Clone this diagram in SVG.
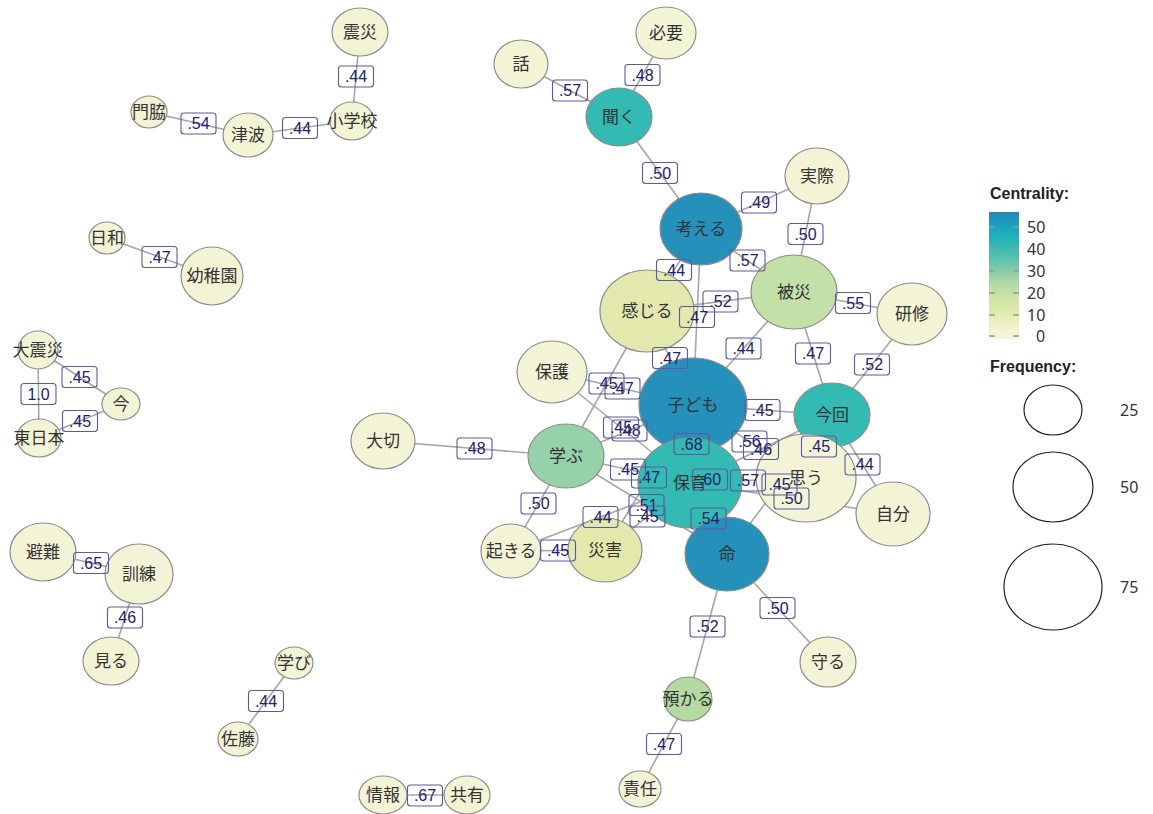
<svg xmlns="http://www.w3.org/2000/svg" width="1153" height="814" viewBox="0 0 1153 814">
<style>
.e{stroke:#a6a6a6;stroke-width:1.6;fill:none}
.n{stroke:#8c8c8c;stroke-width:1.2}
.p{fill:#f3f3d6}.b{fill:#2590ba}.t{fill:#33bab3}.g{fill:#95d1a9}.h{fill:#c3e0a8}.a{fill:#b4daa2}.y{fill:#e3e8ad}
.nt{font-family:"Noto Sans CJK JP","Noto Sans",sans-serif;font-size:17px;fill:#333;text-anchor:middle}
.lb{fill:none;stroke:#5a5aa2;stroke-width:1.1}
.lt{font-family:"Liberation Sans",Arial,sans-serif;font-size:16px;fill:#22226b;text-anchor:middle}
.lg{font-family:"Liberation Sans",Arial,sans-serif;font-size:16px;font-weight:bold;fill:#222}
.tk{font-family:"Noto Sans","DejaVu Sans",sans-serif;font-size:16px;fill:#333}
.fc{fill:none;stroke:#222;stroke-width:1.2}
</style>
<defs>
<linearGradient id="cg" x1="0" y1="1" x2="0" y2="0">
<stop offset="0" stop-color="#f6f5df"/>
<stop offset="0.1" stop-color="#eff1c8"/>
<stop offset="0.22" stop-color="#dde9ab"/>
<stop offset="0.35" stop-color="#c8e2a6"/>
<stop offset="0.47" stop-color="#a5d5a6"/>
<stop offset="0.58" stop-color="#72c6a9"/>
<stop offset="0.7" stop-color="#40bbb0"/>
<stop offset="0.8" stop-color="#1fb2b8"/>
<stop offset="0.9" stop-color="#1d9fc0"/>
<stop offset="1" stop-color="#2686b6"/>
</linearGradient>
</defs>
<rect width="1153" height="814" fill="#fff"/>
<g id="connectors">
<line class="e" x1="149" y1="112" x2="248" y2="135"/>
<line class="e" x1="248" y1="135" x2="352" y2="121"/>
<line class="e" x1="360" y1="32" x2="352" y2="121"/>
<line class="e" x1="107" y1="238" x2="212" y2="276"/>
<line class="e" x1="38" y1="350" x2="39" y2="438"/>
<line class="e" x1="38" y1="350" x2="121" y2="404"/>
<line class="e" x1="39" y1="438" x2="121" y2="404"/>
<line class="e" x1="43" y1="552" x2="139" y2="574"/>
<line class="e" x1="139" y1="574" x2="111" y2="661"/>
<line class="e" x1="294" y1="663" x2="238" y2="739"/>
<line class="e" x1="383" y1="795" x2="467" y2="795"/>
<line class="e" x1="688" y1="699" x2="640" y2="789"/>
<line class="e" x1="727" y1="554" x2="688" y2="699"/>
<line class="e" x1="727" y1="554" x2="828" y2="662"/>
<line class="e" x1="521" y1="64" x2="619" y2="117"/>
<line class="e" x1="619" y1="117" x2="666" y2="33"/>
<line class="e" x1="619" y1="117" x2="701" y2="229"/>
<line class="e" x1="701" y1="229" x2="817" y2="176"/>
<line class="e" x1="817" y1="176" x2="794" y2="292"/>
<line class="e" x1="701" y1="229" x2="794" y2="292"/>
<line class="e" x1="794" y1="292" x2="912" y2="314"/>
<line class="e" x1="794" y1="292" x2="693" y2="405"/>
<line class="e" x1="794" y1="292" x2="832" y2="415"/>
<line class="e" x1="912" y1="314" x2="832" y2="415"/>
<line class="e" x1="701" y1="229" x2="647" y2="311"/>
<line class="e" x1="647" y1="311" x2="794" y2="292"/>
<line class="e" x1="701" y1="229" x2="693" y2="405"/>
<line class="e" x1="647" y1="311" x2="693" y2="405"/>
<line class="e" x1="693" y1="405" x2="690" y2="483"/>
<line class="e" x1="693" y1="405" x2="832" y2="415"/>
<line class="e" x1="693" y1="405" x2="806" y2="478"/>
<line class="e" x1="690" y1="483" x2="832" y2="415"/>
<line class="e" x1="690" y1="483" x2="806" y2="478"/>
<line class="e" x1="832" y1="415" x2="806" y2="478"/>
<line class="e" x1="832" y1="415" x2="893" y2="514"/>
<line class="e" x1="690" y1="483" x2="893" y2="514"/>
<line class="e" x1="727" y1="554" x2="832" y2="415"/>
<line class="e" x1="693" y1="405" x2="727" y2="554"/>
<line class="e" x1="690" y1="483" x2="727" y2="554"/>
<line class="e" x1="383" y1="441" x2="566" y2="456"/>
<line class="e" x1="566" y1="456" x2="511" y2="551"/>
<line class="e" x1="511" y1="551" x2="605" y2="550"/>
<line class="e" x1="511" y1="551" x2="690" y2="483"/>
<line class="e" x1="566" y1="456" x2="727" y2="554"/>
<line class="e" x1="605" y1="550" x2="690" y2="483"/>
<line class="e" x1="605" y1="550" x2="693" y2="405"/>
<line class="e" x1="566" y1="456" x2="690" y2="483"/>
<line class="e" x1="566" y1="456" x2="693" y2="405"/>
<line class="e" x1="552" y1="372" x2="690" y2="483"/>
<line class="e" x1="566" y1="456" x2="647" y2="311"/>
<line class="e" x1="552" y1="372" x2="693" y2="405"/>
</g>
<g id="n-shinsai"><ellipse class="n p" cx="360" cy="32" rx="28" ry="24"/><text class="nt" x="360" y="38">震災</text></g>
<g id="n-shogakko"><ellipse class="n p" cx="352" cy="121" rx="22" ry="19"/><text class="nt" x="352" y="127">小学校</text></g>
<g id="n-tsunami"><ellipse class="n p" cx="248" cy="135" rx="25" ry="22"/><text class="nt" x="248" y="141">津波</text></g>
<g id="n-kadowaki"><ellipse class="n p" cx="149" cy="112" rx="18" ry="16"/><text class="nt" x="149" y="118">門脇</text></g>
<g id="n-hiyori"><ellipse class="n p" cx="107" cy="238" rx="18" ry="16"/><text class="nt" x="107" y="244">日和</text></g>
<g id="n-yochien"><ellipse class="n p" cx="212" cy="276" rx="31" ry="29"/><text class="nt" x="212" y="282">幼稚園</text></g>
<g id="n-daishinsai"><ellipse class="n p" cx="38" cy="350" rx="20" ry="19"/><text class="nt" x="38" y="356">大震災</text></g>
<g id="n-higashinihon"><ellipse class="n p" cx="39" cy="438" rx="22" ry="19"/><text class="nt" x="39" y="444">東日本</text></g>
<g id="n-ima"><ellipse class="n p" cx="121" cy="404" rx="19" ry="16"/><text class="nt" x="121" y="410">今</text></g>
<g id="n-hinan"><ellipse class="n p" cx="43" cy="552" rx="33" ry="29"/><text class="nt" x="43" y="558">避難</text></g>
<g id="n-kunren"><ellipse class="n p" cx="139" cy="574" rx="34" ry="30"/><text class="nt" x="139" y="580">訓練</text></g>
<g id="n-miru"><ellipse class="n p" cx="111" cy="661" rx="28" ry="24"/><text class="nt" x="111" y="667">見る</text></g>
<g id="n-manabi"><ellipse class="n p" cx="294" cy="663" rx="19" ry="16"/><text class="nt" x="294" y="669">学び</text></g>
<g id="n-sato"><ellipse class="n p" cx="238" cy="739" rx="20" ry="17"/><text class="nt" x="238" y="745">佐藤</text></g>
<g id="n-joho"><ellipse class="n p" cx="383" cy="795" rx="24" ry="19"/><text class="nt" x="383" y="801">情報</text></g>
<g id="n-kyoyu"><ellipse class="n p" cx="467" cy="795" rx="23" ry="19"/><text class="nt" x="467" y="801">共有</text></g>
<g id="n-sekinin"><ellipse class="n p" cx="640" cy="789" rx="21" ry="18"/><text class="nt" x="640" y="795">責任</text></g>
<g id="n-azukaru"><ellipse class="n a" cx="688" cy="699" rx="24" ry="22"/><text class="nt" x="688" y="705">預かる</text></g>
<g id="n-mamoru"><ellipse class="n p" cx="828" cy="662" rx="28" ry="25"/><text class="nt" x="828" y="668">守る</text></g>
<g id="n-hanashi"><ellipse class="n p" cx="521" cy="64" rx="27" ry="24"/><text class="nt" x="521" y="70">話</text></g>
<g id="n-hitsuyo"><ellipse class="n p" cx="666" cy="33" rx="30" ry="26"/><text class="nt" x="666" y="39">必要</text></g>
<g id="n-kiku"><ellipse class="n t" cx="619" cy="117" rx="33" ry="29"/><text class="nt" x="619" y="123">聞く</text></g>
<g id="n-kangaeru"><ellipse class="n b" cx="701" cy="229" rx="41" ry="36"/><text class="nt" x="701" y="235">考える</text></g>
<g id="n-jissai"><ellipse class="n p" cx="817" cy="176" rx="32" ry="28"/><text class="nt" x="817" y="182">実際</text></g>
<g id="n-hisai"><ellipse class="n h" cx="794" cy="292" rx="43" ry="37"/><text class="nt" x="794" y="298">被災</text></g>
<g id="n-kenshu"><ellipse class="n p" cx="912" cy="314" rx="35" ry="31"/><text class="nt" x="912" y="320">研修</text></g>
<g id="n-kanjiru"><ellipse class="n y" cx="647" cy="311" rx="47" ry="41"/><text class="nt" x="647" y="317">感じる</text></g>
<g id="n-hogo"><ellipse class="n p" cx="552" cy="372" rx="35" ry="31"/><text class="nt" x="552" y="378">保護</text></g>
<g id="n-taisetsu"><ellipse class="n p" cx="383" cy="441" rx="32" ry="28"/><text class="nt" x="383" y="447">大切</text></g>
<g id="n-manabu"><ellipse class="n g" cx="566" cy="456" rx="38" ry="32"/><text class="nt" x="566" y="462">学ぶ</text></g>
<g id="n-okiru"><ellipse class="n p" cx="511" cy="551" rx="30" ry="27"/><text class="nt" x="511" y="557">起きる</text></g>
<g id="n-saigai"><ellipse class="n y" cx="605" cy="550" rx="37" ry="32"/><text class="nt" x="605" y="556">災害</text></g>
<g id="n-kodomo"><ellipse class="n b" cx="693" cy="405" rx="54" ry="47"/><text class="nt" x="693" y="411">子ども</text></g>
<g id="n-konkai"><ellipse class="n t" cx="832" cy="415" rx="38" ry="32"/><text class="nt" x="832" y="421">今回</text></g>
<g id="n-omou"><ellipse class="n p" cx="806" cy="478" rx="50" ry="44"/><text class="nt" x="806" y="484">思う</text></g>
<g id="n-jibun"><ellipse class="n p" cx="893" cy="514" rx="37" ry="32"/><text class="nt" x="893" y="520">自分</text></g>
<g id="n-hoiku"><ellipse class="n t" cx="690" cy="483" rx="52" ry="45"/><text class="nt" x="690" y="489">保育</text></g>
<g id="n-inochi"><ellipse class="n b" cx="727" cy="554" rx="42" ry="37"/><text class="nt" x="727" y="560">命</text></g>
<g id="edge-labels">
<rect class="lb" x="181" y="113" width="35" height="21" rx="3"/><text class="lt" x="198.5" y="129">.54</text>
<rect class="lb" x="282.5" y="117.5" width="35" height="21" rx="3"/><text class="lt" x="300" y="133.5">.44</text>
<rect class="lb" x="338.5" y="66" width="35" height="21" rx="3"/><text class="lt" x="356" y="82">.44</text>
<rect class="lb" x="142" y="246.5" width="35" height="21" rx="3"/><text class="lt" x="159.5" y="262.5">.47</text>
<rect class="lb" x="21" y="383.5" width="35" height="21" rx="3"/><text class="lt" x="38.5" y="399.5">1.0</text>
<rect class="lb" x="62" y="366.5" width="35" height="21" rx="3"/><text class="lt" x="79.5" y="382.5">.45</text>
<rect class="lb" x="62.5" y="410.5" width="35" height="21" rx="3"/><text class="lt" x="80" y="426.5">.45</text>
<rect class="lb" x="73.5" y="552.5" width="35" height="21" rx="3"/><text class="lt" x="91" y="568.5">.65</text>
<rect class="lb" x="107.5" y="607" width="35" height="21" rx="3"/><text class="lt" x="125" y="623">.46</text>
<rect class="lb" x="248.5" y="690.5" width="35" height="21" rx="3"/><text class="lt" x="266" y="706.5">.44</text>
<rect class="lb" x="407.5" y="785" width="35" height="21" rx="3"/><text class="lt" x="425" y="801">.67</text>
<rect class="lb" x="646.5" y="733.5" width="35" height="21" rx="3"/><text class="lt" x="664" y="749.5">.47</text>
<rect class="lb" x="690" y="616" width="35" height="21" rx="3"/><text class="lt" x="707.5" y="632">.52</text>
<rect class="lb" x="760" y="597.5" width="35" height="21" rx="3"/><text class="lt" x="777.5" y="613.5">.50</text>
<rect class="lb" x="552.5" y="80" width="35" height="21" rx="3"/><text class="lt" x="570" y="96">.57</text>
<rect class="lb" x="625" y="64.5" width="35" height="21" rx="3"/><text class="lt" x="642.5" y="80.5">.48</text>
<rect class="lb" x="642.5" y="162.5" width="35" height="21" rx="3"/><text class="lt" x="660" y="178.5">.50</text>
<rect class="lb" x="741.5" y="192" width="35" height="21" rx="3"/><text class="lt" x="759" y="208">.49</text>
<rect class="lb" x="788" y="223.5" width="35" height="21" rx="3"/><text class="lt" x="805.5" y="239.5">.50</text>
<rect class="lb" x="730" y="250" width="35" height="21" rx="3"/><text class="lt" x="747.5" y="266">.57</text>
<rect class="lb" x="835.5" y="292.5" width="35" height="21" rx="3"/><text class="lt" x="853" y="308.5">.55</text>
<rect class="lb" x="726" y="338" width="35" height="21" rx="3"/><text class="lt" x="743.5" y="354">.44</text>
<rect class="lb" x="795.5" y="343" width="35" height="21" rx="3"/><text class="lt" x="813" y="359">.47</text>
<rect class="lb" x="854.5" y="354" width="35" height="21" rx="3"/><text class="lt" x="872" y="370">.52</text>
<rect class="lb" x="656.5" y="259.5" width="35" height="21" rx="3"/><text class="lt" x="674" y="275.5">.44</text>
<rect class="lb" x="703" y="291" width="35" height="21" rx="3"/><text class="lt" x="720.5" y="307">.52</text>
<rect class="lb" x="679.5" y="306.5" width="35" height="21" rx="3"/><text class="lt" x="697" y="322.5">.47</text>
<rect class="lb" x="652.5" y="347.5" width="35" height="21" rx="3"/><text class="lt" x="670" y="363.5">.47</text>
<rect class="lb" x="674" y="433.5" width="35" height="21" rx="3"/><text class="lt" x="691.5" y="449.5">.68</text>
<rect class="lb" x="745" y="399.5" width="35" height="21" rx="3"/><text class="lt" x="762.5" y="415.5">.45</text>
<rect class="lb" x="732" y="431" width="35" height="21" rx="3"/><text class="lt" x="749.5" y="447">.56</text>
<rect class="lb" x="743.5" y="438.5" width="35" height="21" rx="3"/><text class="lt" x="761" y="454.5">.46</text>
<rect class="lb" x="730.5" y="470" width="35" height="21" rx="3"/><text class="lt" x="748" y="486">.57</text>
<rect class="lb" x="801.5" y="436" width="35" height="21" rx="3"/><text class="lt" x="819" y="452">.45</text>
<rect class="lb" x="845" y="454" width="35" height="21" rx="3"/><text class="lt" x="862.5" y="470">.44</text>
<rect class="lb" x="774" y="488" width="35" height="21" rx="3"/><text class="lt" x="791.5" y="504">.50</text>
<rect class="lb" x="762" y="474" width="35" height="21" rx="3"/><text class="lt" x="779.5" y="490">.45</text>
<rect class="lb" x="692.5" y="469" width="35" height="21" rx="3"/><text class="lt" x="710" y="485">.60</text>
<rect class="lb" x="691" y="508" width="35" height="21" rx="3"/><text class="lt" x="708.5" y="524">.54</text>
<rect class="lb" x="457" y="438" width="35" height="21" rx="3"/><text class="lt" x="474.5" y="454">.48</text>
<rect class="lb" x="521" y="493" width="35" height="21" rx="3"/><text class="lt" x="538.5" y="509">.50</text>
<rect class="lb" x="540.5" y="540" width="35" height="21" rx="3"/><text class="lt" x="558" y="556">.45</text>
<rect class="lb" x="583" y="506.5" width="35" height="21" rx="3"/><text class="lt" x="600.5" y="522.5">.44</text>
<rect class="lb" x="629" y="494.5" width="35" height="21" rx="3"/><text class="lt" x="646.5" y="510.5">.51</text>
<rect class="lb" x="630" y="506" width="35" height="21" rx="3"/><text class="lt" x="647.5" y="522">.45</text>
<rect class="lb" x="631.5" y="467" width="35" height="21" rx="3"/><text class="lt" x="649" y="483">.47</text>
<rect class="lb" x="610.5" y="459" width="35" height="21" rx="3"/><text class="lt" x="628" y="475">.45</text>
<rect class="lb" x="612" y="420" width="35" height="21" rx="3"/><text class="lt" x="629.5" y="436">.48</text>
<rect class="lb" x="603.5" y="417" width="35" height="21" rx="3"/><text class="lt" x="621" y="433">.45</text>
<rect class="lb" x="589" y="373" width="35" height="21" rx="3"/><text class="lt" x="606.5" y="389">.45</text>
<rect class="lb" x="605" y="378" width="35" height="21" rx="3"/><text class="lt" x="622.5" y="394">.47</text>
</g>
<g id="legend">
<text class="lg" x="990" y="199">Centrality:</text>
<rect x="989" y="212" width="30" height="127" fill="url(#cg)"/>
<g stroke="#999" stroke-width="1.5">
<line x1="989" y1="227" x2="995" y2="227"/><line x1="1013" y1="227" x2="1019" y2="227"/>
<line x1="989" y1="249" x2="995" y2="249"/><line x1="1013" y1="249" x2="1019" y2="249"/>
<line x1="989" y1="271" x2="995" y2="271"/><line x1="1013" y1="271" x2="1019" y2="271"/>
<line x1="989" y1="293" x2="995" y2="293"/><line x1="1013" y1="293" x2="1019" y2="293"/>
<line x1="989" y1="315" x2="995" y2="315"/><line x1="1013" y1="315" x2="1019" y2="315"/>
<line x1="989" y1="336" x2="995" y2="336"/><line x1="1013" y1="336" x2="1019" y2="336"/>
</g>
<text class="tk" x="1027" y="233">50</text>
<text class="tk" x="1027" y="255">40</text>
<text class="tk" x="1027" y="277">30</text>
<text class="tk" x="1027" y="299">20</text>
<text class="tk" x="1027" y="321">10</text>
<text class="tk" x="1036" y="342">0</text>
<text class="lg" x="990" y="372">Frequency:</text>
<ellipse class="fc" cx="1053" cy="410" rx="29" ry="25"/>
<ellipse class="fc" cx="1053" cy="487" rx="40" ry="35"/>
<ellipse class="fc" cx="1053" cy="587" rx="49" ry="43"/>
<text class="tk" x="1120" y="416" font-size="17">25</text>
<text class="tk" x="1120" y="493" font-size="17">50</text>
<text class="tk" x="1120" y="593" font-size="17">75</text>
</g>
</svg>
